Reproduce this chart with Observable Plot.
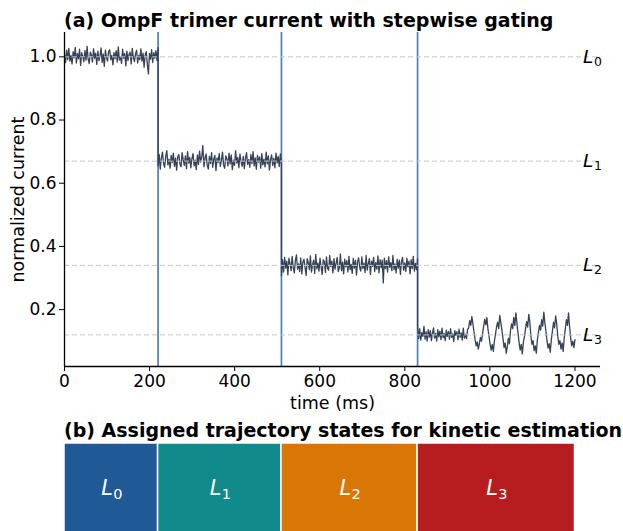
<!DOCTYPE html>
<html><head><meta charset="utf-8">
<script src="https://cdn.jsdelivr.net/npm/d3@7"></script>
<script src="https://cdn.jsdelivr.net/npm/@observablehq/plot@0.6"></script>
<style>
body{margin:0;background:#fff;font-family:"DejaVu Sans",sans-serif;}
#wrap{position:relative;width:623px;height:531px;overflow:hidden;background:#fff;}
.title{position:absolute;left:64px;font-weight:bold;font-size:19px;line-height:19px;white-space:nowrap;color:#000;}
#ta{top:11px}
#tb{top:421px}
#pa{position:absolute;left:0;top:0}
#pb{position:absolute;left:0;top:443px}
svg{font-family:"DejaVu Sans",sans-serif;}
</style></head>
<body><div id="wrap">
<div id="pa"></div><div id="pb"></div>
<div class="title" id="ta">(a) OmpF trimer current with stepwise gating</div>
<div class="title" id="tb">(b) Assigned trajectory states for kinetic estimation</div>
</div>
<script>
// ---- data ----
const boundaries = [0, 220, 510, 830, 1200];      // ms, state segment edges
const gateTimes = [220, 510, 830];                 // gating steps
const levels = [1.0, 0.67, 0.34, 0.12];            // normalized current levels
const stateSubs = ["0", "1", "2", "3"];
const stateColors = ["#1f5a96", "#108a8a", "#d97706", "#b71c1f"];
const xTicks = [0, 200, 400, 600, 800, 1000, 1200];
const yTicks = [0.2, 0.4, 0.6, 0.8, 1.0];
// plateau noise: deviations from the level in units of 0.0015
const noiseUnit = 0.0015;
const dev0 = [5,-12,14,-6,18,-9,3,-15,11,-2,20,-13,7,-4,16,-18,9,1,-10,13,-7,22,-5,-14,10,4,-11,17,-3,8,-16,12,-8,2,19,-12,6,-20,14,-1,-9,11,15,-6,3,-17,9,-4,13,-11,21,-7,0,-14,16,-3,7,-19,12,-8,5,10,-15,18,-2,-10,6,14,-13,3,-6,17,-9,8,-22,4,11,-16,-36,7,-5,15,-12,9,-3,13,-8,20];
const dev1 = [-10,14,-17,7,19,-5,-13,10,22,-8,4,-15,12,-3,17,-11,6,-19,9,14,-6,-12,18,3,-9,11,-16,20,-4,8,-14,5,16,-10,2,-18,13,-7,21,-2,9,33,-12,6,15,-9,-17,10,-5,18,-13,4,12,-20,7,-3,16,-11,1,19,-8,-15,11,5,-10,17,-6,13,-18,2,-9,22,-4,8,-14,15,-1,-11,10,-16,6,18,-7,3,-13,14,-5,20,-10,7,-17,12,-2,9,-15,16,-8,4,-12,19,-6,11,-19,3,13,-9,6,-14,17,-4,10,-11,15,-7];
const dev2 = [-22,12,-14,17,-6,9,-20,15,4,-11,19,-5,-16,10,22,-8,3,-13,16,-18,7,13,-4,-21,14,6,-9,20,-14,1,11,-17,23,-7,5,-12,15,-3,-19,12,8,-15,18,-6,-10,21,-2,9,-16,14,-8,4,17,-13,-5,24,-11,7,-18,13,-3,10,-14,19,-9,2,-17,15,-6,11,-20,8,16,-4,-12,18,-7,5,-15,21,-10,3,14,-19,9,-2,17,-13,6,-8,20,-16,12,-5,11,-37,15,-7,10,-14,18,-4,6,-11,21,-9,3,-16,13,-6,11,-19,8,17,-10,5,-13,15,-3,9,-18,12,-7,19,-12,4,-9,14];
const dev3a = [17,-8,13,-11,5,-3,18,-9,7,-13,11,-5,9,-12,4,15,-7,3,-13,11,-4,8,-10,14,-6,3,-12,10,-3,7,-9,13,-5,2,-14,9,-1,7,-10,12,-5,4,-11,14,-7,1,-8,11];
// oscillating tail of L3 (950-1200 ms): deviations in units of 0.001
const oscUnit = 0.001;
const dev3b = [22,45,30,58,35,10,-15,-35,-22,-45,-28,-8,-20,5,
  28,50,32,55,18,-5,-30,-48,-30,-52,-20,2,25,40,
  20,62,38,15,-12,-40,-25,-58,-38,-10,-28,15,35,20,
  55,30,70,35,5,-25,-48,-30,-60,-22,-5,20,42,25,
  65,40,-5,-30,-18,-50,-35,-58,-15,8,30,15,48,28,
  72,38,10,-20,-42,-28,-55,-15,12,40,22,60,35,-5,
  -30,-18,-45,-25,-52,-10,20,48,30,70,25,-10,-35,-20,-40,-15];
const oscStart = 950;

// ---- build tables ----
const pieces = [
  {t0: 0, t1: 220, level: levels[0], d: dev0, unit: noiseUnit},
  {t0: 220, t1: 510, level: levels[1], d: dev1, unit: noiseUnit},
  {t0: 510, t1: 830, level: levels[2], d: dev2, unit: noiseUnit},
  {t0: 830, t1: oscStart, level: levels[3], d: dev3a, unit: noiseUnit, open: true},
  {t0: oscStart, t1: 1200, level: levels[3], d: dev3b, unit: oscUnit}
];
const trace = [];
pieces.forEach(p => {
  const n = p.d.length, span = p.t1 - p.t0, denom = p.open ? n : n - 1;
  p.d.forEach((v, i) => trace.push({t: p.t0 + i * span / denom, y: p.level + v * p.unit}));
});
const states = levels.map((lv, k) => ({
  start: boundaries[k], end: boundaries[k + 1], mid: (boundaries[k] + boundaries[k + 1]) / 2,
  level: lv, sub: stateSubs[k], color: stateColors[k]
}));

const W = 623, ML = 64, MR = 23;
const xDomain = [0, 1260];
const yDomain = [0.02, 1.077];

const plotA = Plot.plot({
  width: W, height: 410,
  marginLeft: ML, marginRight: MR, marginTop: 32, marginBottom: 44,
  style: {fontFamily: "DejaVu Sans, sans-serif", fontSize: "17px", background: "white", color: "black", overflow: "visible"},
  x: {domain: xDomain},
  y: {domain: yDomain},
  marks: [
    Plot.ruleX(gateTimes, {stroke: "#4f80b5", strokeWidth: 1.7}),
    Plot.line(trace, {x: "t", y: "y", stroke: "#374256", strokeWidth: 1.3}),
    Plot.ruleY(states, {y: "level", stroke: "#c2c6ce", strokeWidth: 1, strokeDasharray: "5,3"}),
    Plot.text(states, {x: 1219, y: "level", text: () => "L", fontStyle: "italic", fontSize: 18.5, textAnchor: "start", fill: "black"}),
    Plot.text(states, {x: 1219, y: "level", text: "sub", dx: 11, dy: 5, fontSize: 12.5, textAnchor: "start", fill: "black"}),
    Plot.ruleX([0], {stroke: "black", strokeWidth: 1.3}),
    Plot.ruleY([yDomain[0]], {stroke: "black", strokeWidth: 1.3}),
    Plot.axisX({ticks: xTicks, tickSize: 5, tickPadding: 3, fontSize: 17, tickFormat: d3.format("d"),
      label: "time (ms)", labelAnchor: "center", labelArrow: "none", labelOffset: 42}),
    Plot.axisY({ticks: yTicks, tickSize: 5, tickPadding: 3, fontSize: 17, tickFormat: d3.format(".1f"),
      label: "normalized current", labelAnchor: "center", labelArrow: "none", labelOffset: 53})
  ]
});
d3.select(plotA).selectAll('[aria-label="y-axis label"], [aria-label="x-axis label"]').attr("font-size", 17.5);
document.getElementById("pa").appendChild(plotA);

const plotB = Plot.plot({
  width: W, height: 90,
  marginLeft: ML, marginRight: MR, marginTop: 0, marginBottom: 0,
  style: {fontFamily: "DejaVu Sans, sans-serif", fontSize: "16px", background: "white"},
  x: {domain: xDomain, axis: null},
  marks: [
    Plot.barX(states, {x1: "start", x2: "end", fill: "color", stroke: "white", strokeWidth: 1.5}),
    Plot.text(states, {x: "mid", text: () => "L", dx: -10, dy: 0, fontStyle: "italic", fontSize: 21, textAnchor: "start", fill: "white"}),
    Plot.text(states, {x: "mid", text: "sub", dx: 2, dy: 6, fontSize: 14.5, textAnchor: "start", fill: "white"})
  ]
});
document.getElementById("pb").appendChild(plotB);
</script>
</body></html>
